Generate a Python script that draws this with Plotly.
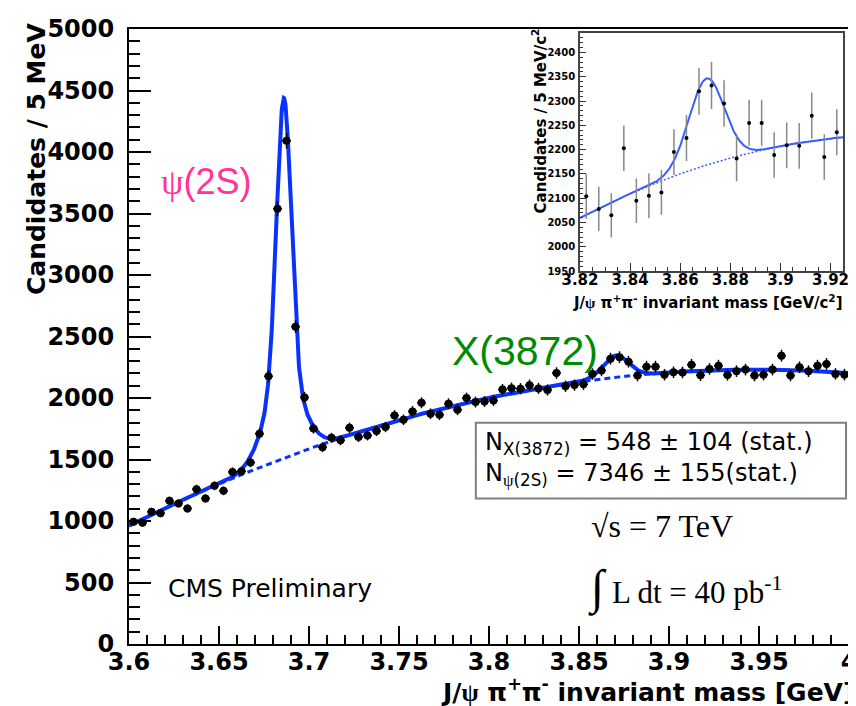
import numpy as np
import plotly.graph_objects as go

# ---------------- data ----------------
BIN_LO = 3.6          # GeV, lower edge of first bin
BIN_WIDTH = 0.005     # GeV (5 MeV bins)
counts = [994, 986, 1075, 1064, 1164, 1143, 1102, 1259, 1183, 1286,
          1245, 1399, 1404, 1475, 1710, 2177, 3539, 4092, 2580, 2005,
          1753, 1600, 1676, 1656, 1758, 1683, 1696, 1732, 1764, 1858,
          1823, 1891, 1961, 1872, 1864, 1953, 1904, 1999, 1967, 1972,
          1980, 2069, 2080, 2075, 2104, 2078, 2065, 2203, 2095, 2105,
          2112, 2195, 2224, 2320, 2332, 2295, 2182, 2255, 2255, 2189,
          2209, 2208, 2270, 2185, 2236, 2263, 2188, 2218, 2231, 2182,
          2190, 2231, 2344, 2182, 2250, 2218, 2263, 2277, 2196, 2190]
mass = [round(BIN_LO + BIN_WIDTH * (i + 0.5), 4) for i in range(len(counts))]
errors = [float(np.sqrt(c)) for c in counts]

# fit model parameters (background quadratic in m-3.6, psi(2S) double gaussian, X(3872) gaussian)
BG_T0 = 3.6
BG_COEF = [962.0, 7300.0, -10500.0]
PSI_MASS = 3.686
PSI_AMPS = [2276.0, 650.0]
PSI_SIGMAS = [0.0040, 0.0100]
X_MASS = 3.8705
X_AMP = 178.0
X_SIGMA = 0.0070

x_ticks = [3.6, 3.65, 3.7, 3.75, 3.8, 3.85, 3.9, 3.95, 4.0]
x_ticktext = ["3.6", "3.65", "3.7", "3.75", "3.8", "3.85", "3.9", "3.95", "4"]
y_ticks = [0, 500, 1000, 1500, 2000, 2500, 3000, 3500, 4000, 4500, 5000]

inset_range_x = [3.82, 3.925]
inset_range_y = [1950, 2440]
inset_xticks = [3.82, 3.84, 3.86, 3.88, 3.90, 3.92]
inset_xticktext = ["3.82", "3.84", "3.86", "3.88", "3.9", "3.92"]
inset_yticks = [1950, 2000, 2050, 2100, 2150, 2200, 2250, 2300, 2350, 2400]


def background(m):
    t = m - BG_T0
    return BG_COEF[0] + BG_COEF[1] * t + BG_COEF[2] * t ** 2


def psi_signal(m):
    return sum(a * np.exp(-0.5 * ((m - PSI_MASS) / s) ** 2) for a, s in zip(PSI_AMPS, PSI_SIGMAS))


def x_signal(m):
    return X_AMP * np.exp(-0.5 * ((m - X_MASS) / X_SIGMA) ** 2)


def total(m):
    return background(m) + psi_signal(m) + x_signal(m)


BLUE = "#0a32ff"
BLUE2 = "#3a5cff"
BOLD = dict(family="DejaVu Sans", weight="bold", color="black")

fig = go.Figure()

mf = np.linspace(3.6, 4.0, 2001)
fig.add_trace(go.Scatter(x=mf, y=background(mf), mode="lines",
                         line=dict(color=BLUE, width=3, dash="6px,4px"),
                         hoverinfo="skip", showlegend=False))
fig.add_trace(go.Scatter(x=mf, y=total(mf), mode="lines",
                         line=dict(color=BLUE, width=4),
                         hoverinfo="skip", showlegend=False))
fig.add_trace(go.Scatter(x=mass, y=counts, mode="markers",
                         marker=dict(color="black", size=8),
                         error_y=dict(type="data", array=errors, width=0, thickness=1.5, color="black"),
                         error_x=dict(type="constant", value=BIN_WIDTH / 2, width=0, thickness=1.5, color="black"),
                         showlegend=False))

# inset
sel = [i for i, m in enumerate(mass) if inset_range_x[0] <= m <= inset_range_x[1]]
im = [mass[i] for i in sel]
ic = [counts[i] for i in sel]
ie = [errors[i] for i in sel]
mi = np.linspace(inset_range_x[0], inset_range_x[1], 600)
fig.add_trace(go.Scatter(x=mi, y=background(mi), mode="lines", xaxis="x2", yaxis="y2",
                         line=dict(color=BLUE2, width=1.5, dash="2px,2px"),
                         hoverinfo="skip", showlegend=False))
fig.add_trace(go.Scatter(x=mi, y=total(mi), mode="lines", xaxis="x2", yaxis="y2",
                         line=dict(color=BLUE2, width=2),
                         hoverinfo="skip", showlegend=False))
fig.add_trace(go.Scatter(x=im, y=ic, mode="markers", xaxis="x2", yaxis="y2",
                         marker=dict(color="black", size=4),
                         error_y=dict(type="data", array=ie, width=0, thickness=1.5, color="#888888"),
                         showlegend=False))

L, R, T, B = 121, 7, 19, 70
W, H = 856, 706
PW, PH = W - L - R, H - T - B


def px(xp):
    return (xp - L) / PW


def py(yp):
    return (H - B - yp) / PH


fig.update_layout(
    width=W, height=H,
    margin=dict(l=L, r=R, t=T, b=B, pad=0),
    paper_bgcolor="white", plot_bgcolor="white",
    showlegend=False,
    xaxis=dict(range=[3.6, 4.0], tickvals=x_ticks, ticktext=x_ticktext,
               ticks="inside", ticklen=18, tickwidth=1.5, tickcolor="black",
               showline=True, linewidth=2, linecolor="black", mirror=True,
               showgrid=False, zeroline=False,
               minor=dict(dtick=0.01, ticks="inside", ticklen=9, tickwidth=1.5,
                          tickcolor="black", showgrid=False),
               tickfont=dict(size=24, **BOLD), ticklabelstandoff=-5),
    yaxis=dict(range=[0, 5000], tickvals=y_ticks,
               ticks="inside", ticklen=22, tickwidth=1.5, tickcolor="black",
               showline=True, linewidth=2, linecolor="black", mirror=True,
               showgrid=False, zeroline=False,
               minor=dict(dtick=100, ticks="inside", ticklen=11, tickwidth=1.5,
                          tickcolor="black", showgrid=False),
               tickfont=dict(size=24, **BOLD), ticklabelstandoff=8),
    xaxis2=dict(domain=[px(577), px(843)], anchor="y2", range=inset_range_x,
                tickvals=inset_xticks, ticktext=inset_xticktext,
                ticks="inside", ticklen=8, tickwidth=1, tickcolor="#333",
                showline=True, linewidth=1.5, linecolor="#444", mirror=True,
                showgrid=False, zeroline=False,
                minor=dict(dtick=0.005, ticks="inside", ticklen=4, tickwidth=1,
                           tickcolor="#333", showgrid=False),
                tickfont=dict(size=15, **BOLD), ticklabelstandoff=-6),
    yaxis2=dict(domain=[py(262), py(23)], anchor="x2", range=inset_range_y,
                tickvals=inset_yticks,
                ticks="inside", ticklen=6, tickwidth=1, tickcolor="#333",
                showline=True, linewidth=1.5, linecolor="#444", mirror=True,
                showgrid=False, zeroline=False,
                minor=dict(dtick=10, ticks="inside", ticklen=3, tickwidth=1,
                           tickcolor="#333", showgrid=False),
                tickfont=dict(size=10, **BOLD), ticklabelstandoff=1),
)

SERIF_PSI = "<span style='font-family:Liberation Serif'>ψ</span>"
ann = []
# main axis titles
ann.append(dict(text="Candidates / 5 MeV", textangle=-90, xref="paper", yref="paper",
                x=px(27.5), y=py(10), xanchor="center", yanchor="top", showarrow=False,
                font=dict(size=25, **BOLD)))
ann.append(dict(text="J/" + SERIF_PSI + " π<sup>+</sup>π<sup>-</sup> invariant mass [GeV]",
                xref="paper", yref="paper", x=px(856), y=py(683), xanchor="right", yanchor="middle",
                showarrow=False, font=dict(size=25, **BOLD)))
# inset axis titles
ann.append(dict(text="Candidates / 5 MeV/c<sup>2</sup>", textangle=-90, xref="paper", yref="paper",
                x=px(535.5), y=py(16), xanchor="center", yanchor="top", showarrow=False,
                font=dict(size=15, **BOLD)))
ann.append(dict(text="J/" + SERIF_PSI + " π<sup>+</sup>π<sup>-</sup> invariant mass [GeV/c<sup>2</sup>]",
                xref="paper", yref="paper", x=px(845), y=py(293), xanchor="right", yanchor="middle",
                showarrow=False, font=dict(size=15, **BOLD)))
# peak labels
ann.append(dict(text=SERIF_PSI + "(2S)", xref="paper", yref="paper", x=px(199.5), y=py(172),
                xanchor="center", yanchor="middle", showarrow=False,
                font=dict(family="Liberation Sans", size=36, color="#ff3399")))
ann.append(dict(text="X(3872)", xref="paper", yref="paper", x=px(521.5), y=py(342),
                xanchor="center", yanchor="middle", showarrow=False,
                font=dict(family="Liberation Sans", size=41, color="#008a00")))
ann.append(dict(text="CMS Preliminary", xref="paper", yref="paper", x=px(158), y=py(580),
                xanchor="left", yanchor="middle", showarrow=False,
                font=dict(family="DejaVu Sans", size=25, color="black")))
# yields box
ann.append(dict(text="N<sub>X(3872)</sub> = 548 ± 104 (stat.)<br>N<sub>" + SERIF_PSI + "(2S)</sub> = 7346 ± 155(stat.)",
                xref="paper", yref="paper", x=px(479), y=py(450), xanchor="left", yanchor="middle",
                align="left", showarrow=False,
                font=dict(family="DejaVu Sans", size=24, color="black")))
# energy / lumi
ann.append(dict(text="√s = 7 TeV", xref="paper", yref="paper", x=px(586), y=py(518),
                xanchor="left", yanchor="middle", showarrow=False,
                font=dict(family="Liberation Serif", size=32, color="black")))
ann.append(dict(text="<span style='font-size:48px'>∫</span> L dt = 40 pb<sup>-1</sup>", xref="paper", yref="paper",
                x=px(583), y=py(580), xanchor="left", yanchor="middle", showarrow=False,
                font=dict(family="Liberation Serif", size=31, color="black")))
fig.update_layout(annotations=ann)

fig.add_shape(type="rect", xref="paper", yref="paper", x0=px(471.7), x1=px(846), y0=py(490), y1=py(414),
              line=dict(color="#808080", width=2), fillcolor="rgba(0,0,0,0)")

fig.write_html("out.html")
